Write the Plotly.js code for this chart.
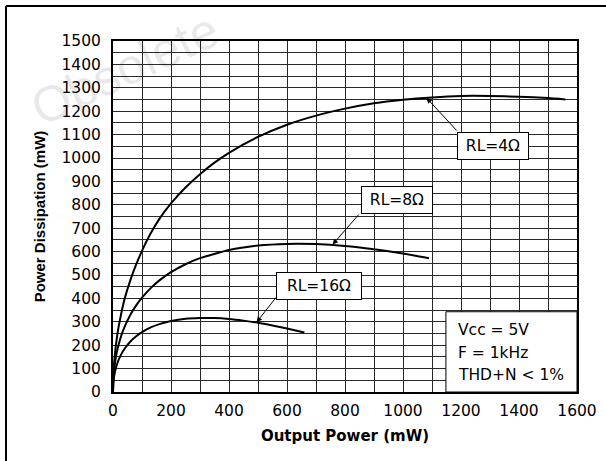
<!DOCTYPE html>
<html>
<head>
<meta charset="utf-8">
<script src="https://cdn.plot.ly/plotly-3.0.1.min.js"></script>
<style>
  html, body { margin: 0; padding: 0; background: #ffffff; }
  #chart { width: 606px; height: 461px; }
</style>
</head>
<body>
<div id="chart"></div>
<script>
// ---- data (mW) ----
const outPower4 = [0, 1, 3, 6, 10, 15, 20, 30, 40, 60, 80, 100, 130, 160, 200, 250, 300, 350, 400, 500, 600, 700, 800, 900, 1000, 1100, 1200, 1300, 1400, 1500, 1560];
const pDiss4    = [0, 65, 110, 155, 200, 245, 283, 345, 398, 478, 545, 603, 678, 740, 806, 874, 931, 980, 1022, 1090, 1142, 1181, 1211, 1234, 1249, 1259, 1265, 1265, 1262, 1256, 1250];

const outPower8 = [0, 1, 3, 6, 10, 15, 20, 30, 40, 60, 80, 100, 130, 160, 200, 250, 300, 400, 500, 600, 700, 800, 900, 1000, 1090];
const pDiss8    = [0, 49, 84, 117, 149, 180, 205, 246, 278, 330, 370, 403, 444, 477, 512, 546, 572, 607, 626, 633, 632, 624, 610, 592, 572];

const outPower16 = [0, 1, 3, 6, 10, 15, 20, 30, 40, 60, 80, 100, 130, 160, 200, 250, 300, 350, 400, 450, 500, 550, 600, 660];
const pDiss16    = [0, 35, 59, 81, 102, 123, 139, 165, 185, 216, 238, 256, 276, 290, 303, 313, 316, 316, 312, 305, 296, 284, 271, 254];

const seriesNames = ['RL=4Ω', 'RL=8Ω', 'RL=16Ω'];
const xTickVals = [0, 200, 400, 600, 800, 1000, 1200, 1400, 1600];
const xTickText = ['0', '200', '400', '600', '800', '1000', '1200', '1400', '1600'];
const yTickVals = [0, 100, 200, 300, 400, 500, 600, 700, 800, 900, 1000, 1100, 1200, 1300, 1400, 1500];
const yTickText = ['0', '100', '200', '300', '400', '500', '600', '700', '800', '900', '1000', '1100', '1200', '1300', '1400', '1500'];
const conditionLines = ['Vcc = 5V', 'F = 1kHz', 'THD+N &lt; 1%'];

// ---- drawing ----
const lineStyle = { color: '#000000', width: 2, shape: 'spline', smoothing: 0.5 };
const traces = [
  { x: outPower4, y: pDiss4, name: seriesNames[0] },
  { x: outPower8, y: pDiss8, name: seriesNames[1] },
  { x: outPower16, y: pDiss16, name: seriesNames[2] }
].map(t => Object.assign(t, { type: 'scatter', mode: 'lines', line: lineStyle, hoverinfo: 'skip' }));

const tickFont = { family: 'DejaVu Sans, Arial, sans-serif', size: 15.5, color: '#000000' };
const gridColor = '#2a2a2a';

// label boxes (centre) and arrows (tail -> tip), in data units
const labelPos = [[1311, 1053, 66], [978, 820, 66], [710, 453, 80]];
const arrowTail = [[1190, 1111], [852, 765], [566, 410]];
const arrowTip = [[1081, 1257], [757, 630], [495, 298]];

const annotations = [];
seriesNames.forEach((name, i) => {
  annotations.push({
    xref: 'x', yref: 'y', x: labelPos[i][0], y: labelPos[i][1],
    text: name, showarrow: false,
    font: { family: 'DejaVu Sans, Arial, sans-serif', size: 15.5, color: '#000000' },
    bgcolor: '#ffffff', bordercolor: '#000000', borderwidth: 1, borderpad: 2,
    width: labelPos[i][2], height: 22, xanchor: 'center', yanchor: 'middle'
  });
  annotations.push({
    xref: 'x', yref: 'y', x: arrowTip[i][0], y: arrowTip[i][1],
    axref: 'x', ayref: 'y', ax: arrowTail[i][0], ay: arrowTail[i][1],
    text: '', showarrow: true, arrowhead: 2, arrowsize: 1.1, arrowwidth: 1, arrowcolor: '#000000'
  });
});
const condY = [263, 166, 72];
conditionLines.forEach((t, i) => {
  annotations.push({
    xref: 'x', yref: 'y', x: 1183, y: condY[i], text: t, showarrow: false,
    xanchor: 'left', yanchor: 'middle', align: 'left',
    font: { family: 'DejaVu Sans, Arial, sans-serif', size: 15.5, color: '#000000' }
  });
});
// faint watermark
annotations.push({
  xref: 'paper', yref: 'paper', x: 0.026, y: 0.92, text: 'Obsolete', showarrow: false,
  textangle: -25, font: { family: 'Liberation Sans, Arial, sans-serif', size: 50, color: 'rgba(0,0,0,0.09)' },
  xanchor: 'center', yanchor: 'middle'
});

const shapes = [
  // conditions box covering the grid
  { type: 'rect', xref: 'x', yref: 'y', x0: 1148, x1: 1600, y0: 0, y1: 343,
    fillcolor: '#ffffff', line: { color: '#000000', width: 1 }, layer: 'above' },
  // outer frame (top and left edges)
  { type: 'line', xref: 'paper', yref: 'paper', x0: -0.2306, x1: 1.07, y0: 1.0997, y1: 1.0997,
    line: { color: '#000000', width: 2 } },
  { type: 'line', xref: 'paper', yref: 'paper', x0: -0.2306, x1: -0.2306, y0: 1.0997, y1: -0.25,
    line: { color: '#000000', width: 2 } }
];

const layout = {
  width: 606, height: 461,
  margin: { l: 113, r: 29, t: 41, b: 69 },
  paper_bgcolor: '#ffffff', plot_bgcolor: '#ffffff',
  showlegend: false,
  xaxis: {
    range: [0, 1600], tickvals: xTickVals, ticktext: xTickText,
    showgrid: true, gridcolor: gridColor, gridwidth: 1,
    minor: { dtick: 100, tick0: 0, showgrid: true, gridcolor: gridColor, gridwidth: 1 },
    showline: true, linecolor: '#000000', linewidth: 2, mirror: true,
    ticks: '', zeroline: false, tickfont: tickFont, ticklabelstandoff: 3,
    title: { text: 'Output Power (mW)', font: { family: 'DejaVu Sans, Arial, sans-serif', size: 15, color: '#000000', weight: 'bold' }, standoff: 12 },
    automargin: false
  },
  yaxis: {
    range: [0, 1500], tickvals: yTickVals, ticktext: yTickText,
    showgrid: true, gridcolor: gridColor, gridwidth: 1,
    minor: { dtick: 50, tick0: 0, showgrid: true, gridcolor: gridColor, gridwidth: 1 },
    showline: true, linecolor: '#000000', linewidth: 2, mirror: true,
    ticks: '', zeroline: false, tickfont: tickFont, ticklabelstandoff: 7,
    title: { text: 'Power Dissipation (mW)', font: { family: 'Liberation Sans, Arial, sans-serif', size: 15, color: '#000000', weight: 'bold' }, standoff: 12 },
    automargin: false
  },
  annotations: annotations,
  shapes: shapes
};

Plotly.newPlot('chart', traces, layout, { staticPlot: true, displayModeBar: false });
</script>
</body>
</html>
